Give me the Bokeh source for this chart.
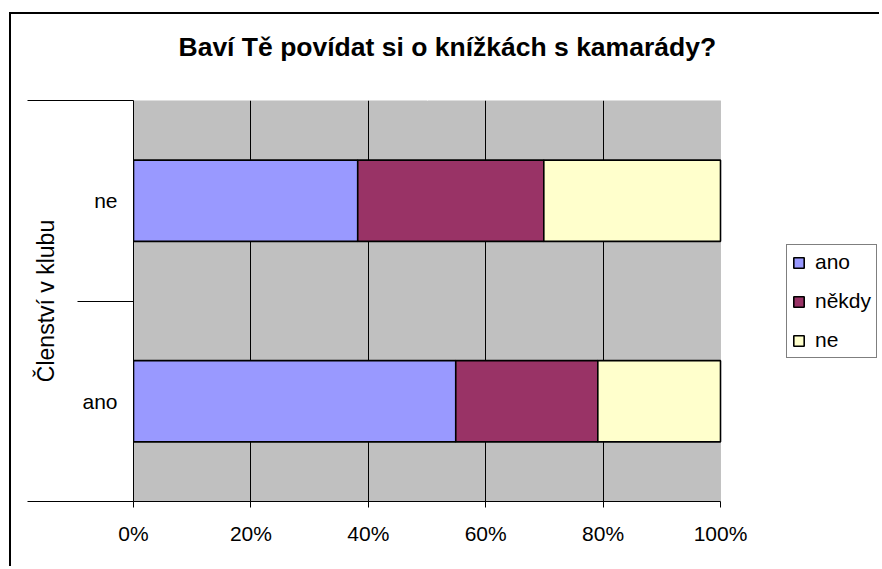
from bokeh.plotting import figure
from bokeh.models import (Range1d, FixedTicker, LinearAxis, Legend, LegendItem,
                          PrintfTickFormatter, ColumnDataSource, BoxAnnotation)
from bokeh.embed import file_html
from bokeh.resources import INLINE

# ---- data ----
title_text = "Baví Tě povídat si o knížkách s kamarády?"
axis_title = "Členství v klubu"
membership = ["ano", "ne"]
responses = ["ano", "někdy", "ne"]
ano = [54.9, 38.2]
nekdy = [24.2, 31.7]
ne = [20.9, 30.1]
x_ticks = [0, 20, 40, 60, 80, 100]
colors = ["#9999FF", "#993366", "#FFFFCC"]

FONT = "Liberation Sans"
LBL = "21px"

n = len(membership)
centers = [i + 0.5 for i in range(n)]
bounds = list(range(n + 1))

# layout: plot area is 587 px wide inside a 747 px wide frame (legend lives in frame)
PLOT_PX = 587
FRAME_PX = 747
x_max = x_ticks[-1] * FRAME_PX / PLOT_PX

src = ColumnDataSource(dict(y=centers, ano=ano, nekdy=nekdy, ne=ne))

p = figure(width=870, height=554, output_backend="svg", toolbar_location=None,
           x_range=Range1d(0, x_max), y_range=Range1d(0, n), y_axis_location=None,
           min_border_left=122, min_border_right=1, min_border_top=86,
           min_border_bottom=67)
p.margin = (14, 0, 0, 11)
p.styles = {"box-shadow": "-2px -2px 0 0 black"}

p.background_fill_color = "white"
p.border_fill_color = "white"
p.outline_line_color = None

# plot area (grey wall)
wall = BoxAnnotation(left=x_ticks[0], right=x_ticks[-1], bottom=0, top=n,
                     fill_color="#C0C0C0", fill_alpha=1,
                     line_color="#808080", line_width=1, level="image")
p.add_layout(wall)

renderers = p.hbar_stack(["ano", "nekdy", "ne"], y="y", height=0.405,
                         fill_color=colors, line_color="black", line_width=1.6,
                         source=src)

# x axis (bottom)
xa = p.below[0]
xa.ticker = FixedTicker(ticks=x_ticks)
xa.bounds = (x_ticks[0], x_ticks[-1])
xa.formatter = PrintfTickFormatter(format="%d%%")
xa.major_label_text_font = FONT
xa.major_label_text_font_size = LBL
xa.major_label_text_color = "black"
xa.major_tick_out = 6
xa.major_tick_in = 0
xa.minor_tick_out = 0
xa.minor_tick_in = 0
xa.axis_line_color = "black"
xa.major_tick_line_color = "black"
xa.major_label_standoff = 14

# spacer between title and plot area (empty axis above)
spacer = LinearAxis(ticker=FixedTicker(ticks=[], minor_ticks=[50]),
                    axis_line_color=None,
                    major_tick_out=0, major_tick_in=0,
                    minor_tick_out=25, minor_tick_in=0,
                    minor_tick_line_color="white",
                    major_label_standoff=0)
p.add_layout(spacer, "above")

# title
p.title.text = title_text
p.title.text_font = FONT
p.title.text_font_size = "26.5px"
p.title.text_font_style = "bold"
p.title.text_color = "black"
p.title.align = "left"
p.title.offset = 45
p.title.vertical_align = "bottom"
p.title.standoff = 28

p.xgrid.ticker = FixedTicker(ticks=x_ticks[1:-1])
p.xgrid.grid_line_color = "black"
p.xgrid.grid_line_width = 1
p.ygrid.grid_line_color = None

# y axes
ax1 = LinearAxis(ticker=FixedTicker(ticks=centers, minor_ticks=bounds),
                 major_label_overrides={c: m for c, m in zip(centers, membership)},
                 major_tick_out=0, major_tick_in=0,
                 minor_tick_out=56, minor_tick_in=0,
                 minor_tick_line_color="black",
                 axis_line_color="black",
                 major_label_standoff=-40,
                 major_label_text_font=FONT, major_label_text_font_size=LBL,
                 major_label_text_color="black")
ax2 = LinearAxis(ticker=FixedTicker(ticks=[], minor_ticks=[bounds[0], bounds[-1]]),
                 axis_line_color=None,
                 major_tick_out=0, major_tick_in=0,
                 minor_tick_out=52, minor_tick_in=0,
                 minor_tick_line_color="black",
                 major_label_standoff=0,
                 axis_label=axis_title, axis_label_standoff=-31,
                 axis_label_text_font=FONT, axis_label_text_font_size="23px",
                 axis_label_text_font_style="normal", axis_label_text_color="black")
p.add_layout(ax1, "left")
p.add_layout(ax2, "left")

legend = Legend(items=[LegendItem(label=r_name, renderers=[r])
                       for r_name, r in zip(responses, renderers)],
                location=(653, 143), orientation="vertical",
                label_text_font=FONT, label_text_font_size=LBL,
                label_text_color="black",
                glyph_width=13, glyph_height=13, label_standoff=10,
                spacing=15, padding=5, margin=0,
                border_line_color="black", border_line_width=1,
                background_fill_color="white", background_fill_alpha=1)
p.add_layout(legend)

open("out.html", "w").write(file_html(p, INLINE))
